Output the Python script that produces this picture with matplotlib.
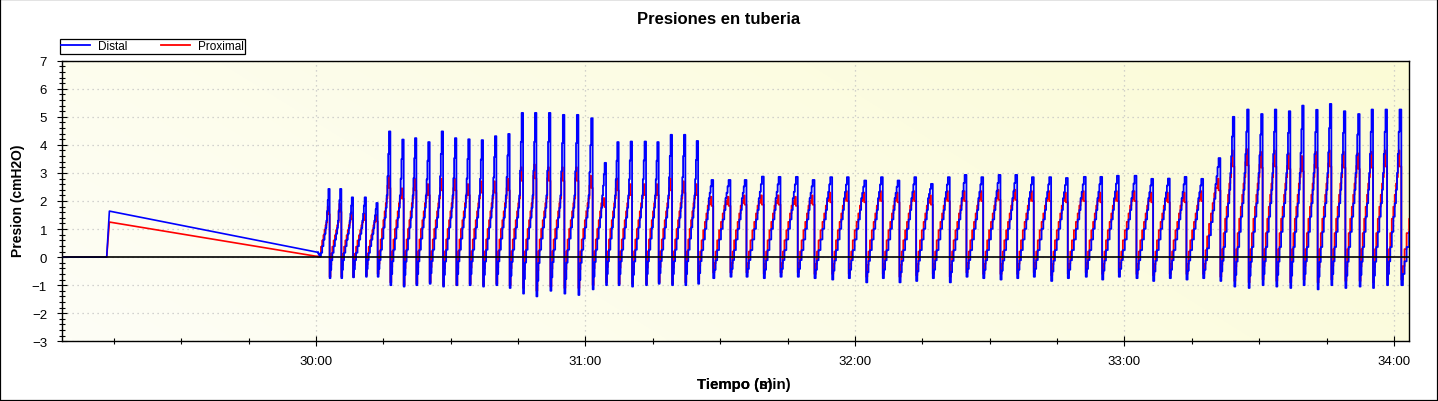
import numpy as np
import matplotlib
matplotlib.use("Agg")
import matplotlib.pyplot as plt
from matplotlib.ticker import MultipleLocator, FuncFormatter
from matplotlib.patches import Rectangle
from matplotlib.colors import LinearSegmentedColormap

plt.rcParams['font.family'] = ['Liberation Sans', 'DejaVu Sans']

# ---------------- data (time in seconds after 30:00) ----------------
idle_end_s = -46.6          # flat zero until here
jump_s = -46.0              # pressure jump
decay_end_s = 0.45          # end of slow decline
distal_decay = [1.64, 0.17]
proximal_decay = [1.25, 0.02]

peak_times_s = [
    2.96, 5.57, 8.17, 11.06, 13.65,
    16.47, 19.44, 22.26, 25.22, 28.21, 31.17, 34.13, 37.11, 40.07, 43.03,
    46.02, 48.98, 52.10, 55.21, 58.33, 61.51, 64.50, 67.30, 70.28, 73.40,
    76.21, 79.19, 82.15, 84.98,
    88.32, 92.17, 95.73, 99.58, 103.30, 107.15, 110.87, 114.81, 118.50, 122.38,
    126.08, 129.79, 133.51, 137.21, 140.99, 144.71, 148.43, 152.28, 156.00, 159.69,
    163.56, 167.26, 171.27, 174.92, 178.62, 182.56, 186.27, 189.97, 193.69, 197.40,
    201.26,
    204.37, 207.56, 210.67, 213.72, 216.84, 219.80, 222.92, 225.97, 229.09, 232.27,
    235.25, 238.37, 241.49, 246.6,
]
distal_peak = [
    2.43, 2.43, 2.13, 2.13, 1.93,
    4.48, 4.19, 4.24, 4.10, 4.48, 4.24, 4.20, 4.17, 4.31, 4.39,
    5.14, 5.14, 5.14, 5.07, 5.07, 4.95, 3.36, 4.10, 4.12, 4.12,
    4.10, 4.36, 4.36, 4.14,
    2.75, 2.75, 2.75, 2.87, 2.86, 2.86, 2.75, 2.85, 2.85, 2.73,
    2.85, 2.73, 2.85, 2.61, 2.85, 2.93, 2.85, 2.93, 2.93, 2.85,
    2.85, 2.82, 2.86, 2.86, 2.90, 2.90, 2.79, 2.80, 2.86, 2.79,
    3.53,
    5.00, 5.26, 5.10, 5.26, 5.20, 5.40, 5.25, 5.46, 5.20, 5.10,
    5.26, 5.26, 5.26, 5.20,
]
proximal_peak = [
    1.80, 1.90, 1.60, 1.55, 1.50,
    2.90, 2.45, 2.80, 2.60, 2.80, 2.80, 2.60, 2.70, 2.70, 2.80,
    3.20, 3.30, 3.20, 3.20, 3.20, 2.90, 2.10, 2.80, 2.60, 2.60,
    2.60, 2.80, 2.70, 2.60,
    2.15, 2.15, 2.20, 2.20, 2.20, 2.15, 2.20, 2.30, 2.35, 2.30,
    2.35, 2.30, 2.35, 2.20, 2.35, 2.35, 2.35, 2.40, 2.40, 2.35,
    2.35, 2.30, 2.35, 2.30, 2.35, 2.35, 2.30, 2.30, 2.30, 2.35,
    2.80,
    3.80, 3.85, 3.75, 3.80, 3.70, 3.60, 3.75, 3.80, 3.75, 3.70,
    3.75, 3.80, 3.80, 3.80,
]
distal_trough = [
    0.12, -0.75, -0.75, -0.72, -0.70,
    -0.70, -1.00, -1.05, -1.00, -0.95, -1.05, -1.00, -1.00, -1.05, -1.00,
    -1.10, -1.30, -1.40, -1.20, -1.30, -1.35, -1.15, -1.00, -1.00, -1.05,
    -1.00, -0.95, -1.00, -1.00,
    -0.95, -0.75, -0.70, -0.70, -0.75, -0.70, -0.70, -0.75, -0.80, -0.75,
    -0.90, -0.75, -0.90, -0.85, -0.75, -0.90, -0.70, -0.75, -0.80, -0.75,
    -0.70, -0.85, -0.75, -0.70, -0.80, -0.70, -0.75, -0.85, -0.75, -0.80,
    -0.75,
    -0.85, -1.05, -1.10, -1.00, -1.05, -1.10, -1.00, -1.15, -1.00, -1.10,
    -1.05, -1.10, -1.00, -1.00,
]
proximal_trough = [
    0.02, -0.70, -0.70, -0.70, -0.65,
    -0.60, -0.90, -1.00, -0.95, -0.90, -1.00, -1.00, -0.95, -1.00, -0.95,
    -1.00, -1.10, -1.20, -1.05, -1.10, -1.10, -1.00, -0.90, -0.95, -0.95,
    -0.95, -0.90, -0.95, -0.90,
    -0.80, -0.55, -0.55, -0.55, -0.60, -0.55, -0.55, -0.60, -0.60, -0.60,
    -0.70, -0.60, -0.70, -0.65, -0.60, -0.70, -0.55, -0.60, -0.60, -0.60,
    -0.55, -0.65, -0.60, -0.55, -0.60, -0.55, -0.60, -0.65, -0.60, -0.60,
    -0.60,
    -0.70, -0.85, -0.90, -0.80, -0.85, -0.90, -0.80, -0.90, -0.80, -0.85,
    -0.85, -0.90, -0.80, -0.80,
]
# level reached by the slow ramp before the final inspiratory rise
ramp_level = [1.3] * 5 + [2.2] * 24 + [2.1] * 30 + [2.6] + [3.0] * 14

# breath shape (phase within a breath)
shape_phase = [0.03, 0.10, 0.17, 0.26, 0.37, 0.48, 0.58, 0.67, 0.74, 0.80, 0.86, 0.92]
distal_shape_trough = [1.0, 0.6, 0.15, 0, 0, 0, 0, 0, 0, 0, 0, 0]
distal_shape_ramp = [0, 0, 0, 0.12, 0.30, 0.48, 0.64, 0.80, 1.0, 0.7, 0.35, 0]
distal_shape_peak = [0, 0, 0, 0, 0, 0, 0, 0, 0, 0.3, 0.65, 1.0]
proximal_shape_trough = [1.0, 0.4, 0, 0, 0, 0, 0, 0, 0, 0, 0, 0]
proximal_shape_ramp = [0, 0, 0.10, 0.30, 0.48, 0.63, 0.78, 0.92, 1.0, 0, 0, 0]
proximal_shape_peak = [0, 0, 0, 0, 0, 0, 0, 0, 0, 0.88, 1.0, 0.85]

x_min_s, x_max_s = -56.55, 243.24


def build(start_val, peaks, troughs, ramps, s_tr, s_rm, s_pk):
    ts = [decay_end_s]
    vs = [start_val]
    prev = decay_end_s
    for tc, p, tr, r in zip(peak_times_s, peaks, troughs, ramps):
        for ph, a, b, c in zip(shape_phase, s_tr, s_rm, s_pk):
            ts.append(prev + ph * (tc - prev))
            vs.append(a * tr + b * r + c * p)
        ts.append(tc)
        vs.append(vs[-1])
        prev = tc
    return 30 + np.array(ts) / 60.0, np.array(vs)


prox_ramp = [0.95 * r for r in ramp_level]
t_d, v_d = build(distal_decay[1], distal_peak, distal_trough, ramp_level,
                 distal_shape_trough, distal_shape_ramp, distal_shape_peak)
t_p, v_p = build(proximal_decay[1], proximal_peak, proximal_trough, prox_ramp,
                 proximal_shape_trough, proximal_shape_ramp, proximal_shape_peak)

pre_t = 30 + np.array([-70, idle_end_s, jump_s, decay_end_s]) / 60.0
pre_d = [0, 0, distal_decay[0], distal_decay[1]]
pre_p = [0, 0, proximal_decay[0], proximal_decay[1]]

# ---------------- figure ----------------
W, H = 1438, 402
fig = plt.figure(figsize=(W / 100, H / 100), dpi=100)
fig.patch.set_facecolor('white')
L, R_, T_, B_ = 62, 1408.5, 61.7, 342.3
ax = fig.add_axes([L / W, 1 - B_ / H, (R_ - L) / W, (B_ - T_) / H])

# background gradient
gx, gy = np.meshgrid(np.linspace(0, 1, 200), np.linspace(0, 1, 60))
g = 0.75 * gx + 0.25 * (1 - gy)
cmap = LinearSegmentedColormap.from_list('bg', ['#fefef6', '#fbfbd6'])
ax.imshow(g, extent=[0, 1, 0, 1], transform=ax.transAxes, cmap=cmap,
          aspect='auto', origin='upper', zorder=0, interpolation='bilinear')

lp, = ax.plot(t_p, v_p, color='#ff0000', lw=1.3, drawstyle='steps-post', zorder=3)
ld, = ax.plot(t_d, v_d, color='#0000ff', lw=1.3, drawstyle='steps-post', zorder=4)
ax.plot(pre_t, pre_p, color='#ff0000', lw=1.2, zorder=3)
ax.plot(pre_t, pre_d, color='#0000ff', lw=1.2, zorder=4)
ax.axhline(0, color='black', lw=1.2, zorder=5)

ax.set_xlim(30 + x_min_s / 60, 30 + x_max_s / 60)
ax.set_ylim(-3, 7)

ax.xaxis.set_major_locator(MultipleLocator(1))
ax.xaxis.set_minor_locator(MultipleLocator(0.25))
ax.yaxis.set_major_locator(MultipleLocator(1))
ax.yaxis.set_minor_locator(MultipleLocator(0.2))


def mmss(m, pos):
    tot = int(round(m * 60))
    return f"{tot // 60:02d}:{tot % 60:02d}"


ax.xaxis.set_major_formatter(FuncFormatter(mmss))
ax.tick_params(which='major', direction='inout', length=7.5, width=0.8,
               labelsize=9.5, color='black')
ax.tick_params(axis='y', which='major', pad=7)
ax.tick_params(axis='x', which='major', pad=6)
ax.tick_params(axis='y', which='minor', direction='inout', length=5, width=0.8)
ax.tick_params(axis='x', which='minor', direction='inout', length=4, width=0.8)

ax.set_axisbelow(True)
ax.grid(True, which='major', color='#c4c4c4', linestyle=(0, (1, 3)), linewidth=0.9)
for s in ax.spines.values():
    s.set_color('black')
    s.set_linewidth(1.0)

fig.text(719 / W, 1 - 20 / H, 'Presiones en tuberia', ha='center', va='center',
         fontsize=12, fontweight='bold')
fig.text(18 / W, 1 - 201 / H, 'Presion (cmH2O)', rotation=90, ha='center',
         va='center', fontsize=10, fontweight='bold')
fig.text(697 / W, 1 - 385 / H, 'Tiempo (min)', ha='left', va='center',
         fontsize=10.8, fontweight='bold')
fig.text(697 / W, 1 - 385 / H, 'Tiempo (s)', ha='left', va='center',
         fontsize=10.8, fontweight='bold')

leg = ax.legend([ld, lp], ['Distal', 'Proximal'], ncol=2, loc='lower left',
                bbox_to_anchor=(60 / W, 1 - 54.5 / H), bbox_transform=fig.transFigure,
                frameon=True, fancybox=False, edgecolor='black', framealpha=1,
                borderpad=0.12, borderaxespad=0, handlelength=2.45,
                handletextpad=0.68, columnspacing=2.8, fontsize=8.5)
leg.get_frame().set_linewidth(0.9)

fig.patches.append(Rectangle((0, 0), 1, 1, transform=fig.transFigure, fill=False,
                             edgecolor='black', linewidth=1.6))

fig.savefig('out.png', dpi=100)
